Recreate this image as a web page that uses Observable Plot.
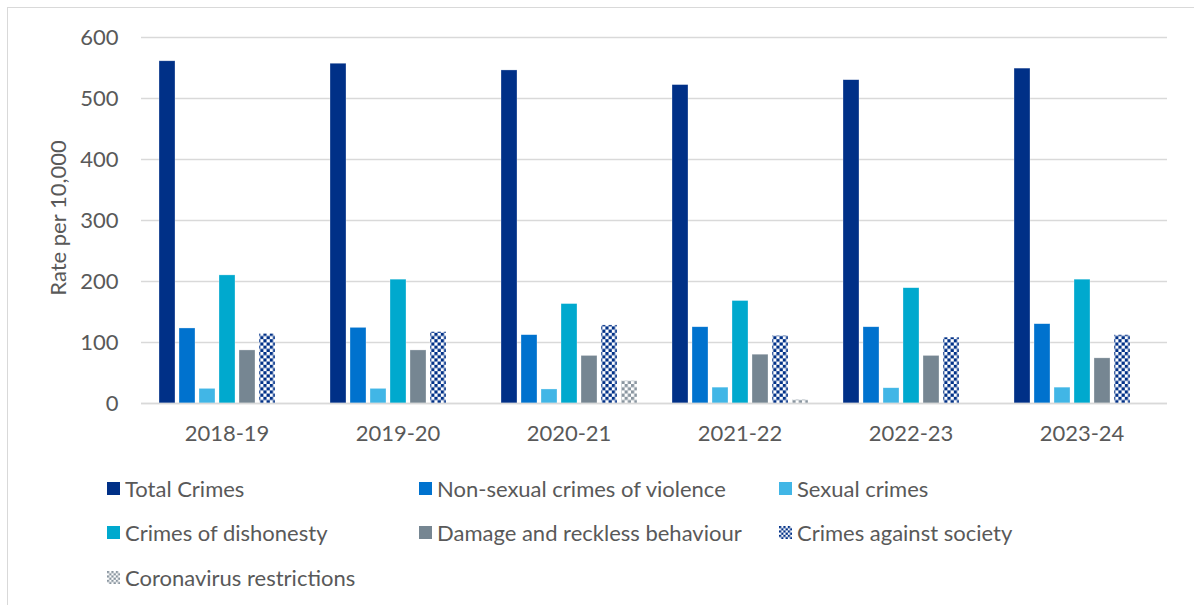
<!DOCTYPE html>
<html>
<head>
<meta charset="utf-8">
<script src="https://cdn.jsdelivr.net/npm/d3@7"></script>
<script src="https://cdn.jsdelivr.net/npm/@observablehq/plot@0.6"></script>
<style>
  html, body { margin: 0; padding: 0; background: #fff; }
  body { width: 1194px; height: 605px; overflow: hidden; position: relative; font-family: Lato, "Open Sans", sans-serif; }
  #frame { position: absolute; left: 7px; top: 7px; width: 1200px; height: 620px; border-left: 1px solid #d9d9d9; border-top: 1px solid #d9d9d9; }
  #chart { position: absolute; left: 0; top: 0; }
  #ylabel { position: absolute; left: 57px; top: 218px; transform: translate(-50%, -50%) rotate(-90deg); white-space: nowrap; font-size: 22px; color: #595959; }
  .leg { position: absolute; display: flex; align-items: center; font-size: 22px; color: #595959; white-space: nowrap; height: 26px; }
  .leg svg { margin-right: 5px; }
</style>
</head>
<body>
<div id="frame"></div>
<div id="chart"></div>
<div id="ylabel">Rate per 10,000</div>
<div id="legend"></div>
<script>
const years = ["2018-19", "2019-20", "2020-21", "2021-22", "2022-23", "2023-24"];
const seriesNames = [
  "Total Crimes",
  "Non-sexual crimes of violence",
  "Sexual crimes",
  "Crimes of dishonesty",
  "Damage and reckless behaviour",
  "Crimes against society",
  "Coronavirus restrictions"
];
const totalCrimes = [561, 557, 546, 522, 530, 549];
const nonSexualViolence = [123, 124, 112, 125, 125, 130];
const sexualCrimes = [24, 24, 23, 26, 25, 26];
const dishonesty = [210, 203, 163, 168, 189, 203];
const damageReckless = [87, 87, 78, 80, 78, 74];
const againstSociety = [114, 117, 128, 111, 108, 112];
const coronavirus = [null, null, 37, 6, null, null];
const yTicks = [0, 100, 200, 300, 400, 500, 600];

const seriesValues = [totalCrimes, nonSexualViolence, sexualCrimes, dishonesty, damageReckless, againstSociety, coronavirus];
const fills = ["#003087", "#0072CE", "#41B6E6", "#00A9CE", "#768692", "url(#patSociety)", "url(#patCorona)"];

const rows = [];
years.forEach((y, i) => {
  seriesNames.forEach((s, j) => {
    const v = seriesValues[j][i];
    if (v != null) rows.push({year: y, series: s, value: v});
  });
});

const chart = Plot.plot({
  width: 1194,
  height: 460,
  marginTop: 37,
  marginBottom: 57,
  marginLeft: 140,
  marginRight: 26,
  style: {fontFamily: "Lato, 'Open Sans', sans-serif", fontSize: "22px", color: "#595959", background: "transparent"},
  fx: {domain: years, padding: 0, label: null, axis: "bottom", tickSize: 0, tickPadding: 22},
  x: {domain: seriesNames, axis: null, paddingInner: 0.22, paddingOuter: 0.88},
  y: {domain: [0, 600], ticks: yTicks, tickSize: 0, tickPadding: 23, label: null, tickFormat: d => String(d)},
  color: {domain: seriesNames, range: fills},
  marks: [
    Plot.gridY(yTicks, {stroke: "#d9d9d9", strokeOpacity: 1, strokeWidth: 1.3}),
    Plot.barY(rows, {fx: "year", x: "series", y: "value", fill: "series", stroke: "#ffffff", strokeOpacity: 0.5, strokeWidth: 0.6}),
    Plot.ruleY([0], {stroke: "#d9d9d9", strokeWidth: 1.6})
  ]
});

// pattern definitions
const ns = "http://www.w3.org/2000/svg";
function makePattern(id, color, size) {
  const p = document.createElementNS(ns, "pattern");
  p.setAttribute("id", id);
  p.setAttribute("patternUnits", "userSpaceOnUse");
  p.setAttribute("width", size * 2);
  p.setAttribute("height", size * 2);
  const bg = document.createElementNS(ns, "rect");
  bg.setAttribute("width", size * 2); bg.setAttribute("height", size * 2); bg.setAttribute("fill", "#ffffff");
  p.appendChild(bg);
  [[0, 0], [size, size]].forEach(([x, y]) => {
    const r = document.createElementNS(ns, "rect");
    r.setAttribute("x", x); r.setAttribute("y", y);
    r.setAttribute("width", size); r.setAttribute("height", size);
    r.setAttribute("fill", color);
    p.appendChild(r);
  });
  return p;
}
function addDefs(svg) {
  const defs = document.createElementNS(ns, "defs");
  defs.appendChild(makePattern("patSociety", "#003087", 3.2));
  defs.appendChild(makePattern("patCorona", "#8a96a0", 3.2));
  svg.insertBefore(defs, svg.firstChild);
}
addDefs(chart);
document.getElementById("chart").appendChild(chart);

// legend
const legendPos = [
  [107, 488], [419, 488], [779, 488],
  [107, 532], [419, 532], [779, 532],
  [107, 577]
];
const legend = document.getElementById("legend");
seriesNames.forEach((s, i) => {
  const div = document.createElement("div");
  div.className = "leg";
  div.style.left = legendPos[i][0] + "px";
  div.style.top = (legendPos[i][1] - 13) + "px";
  const f = fills[i];
  const patColor = i === 5 ? "#003087" : "#8a96a0";
  const sw = f.startsWith("url")
    ? `<svg width="13" height="13"><defs><pattern id="lp${i}" patternUnits="userSpaceOnUse" width="4.4" height="4.4"><rect width="4.4" height="4.4" fill="#fff"/><rect width="2.2" height="2.2" fill="${patColor}"/><rect x="2.2" y="2.2" width="2.2" height="2.2" fill="${patColor}"/></pattern></defs><rect width="13" height="13" fill="url(#lp${i})"/></svg>`
    : `<svg width="13" height="13"><rect width="13" height="13" fill="${f}"/></svg>`;
  div.innerHTML = sw + `<span>${s}</span>`;
  legend.appendChild(div);
});
</script>
</body>
</html>
